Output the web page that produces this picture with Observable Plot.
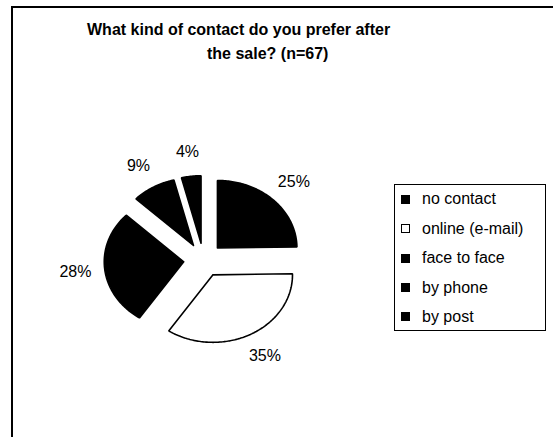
<!DOCTYPE html>
<html>
<head>
<meta charset="utf-8">
<script src="https://cdn.jsdelivr.net/npm/d3@7"></script>
<script src="https://cdn.jsdelivr.net/npm/@observablehq/plot@0.6"></script>
<style>
  html, body { margin: 0; padding: 0; background: #fff; }
  body { width: 553px; height: 437px; overflow: hidden; position: relative;
         font-family: "Liberation Sans", Arial, Helvetica, sans-serif; color: #000; }
  #frame { position: absolute; left: 11px; top: 6px; width: 600px; height: 500px;
           border-left: 2px solid #000; border-top: 2px solid #000; }
  .title { position: absolute; font-weight: bold; font-size: 16px; line-height: 16px; white-space: nowrap; }
  #chart { position: absolute; left: 0; top: 0; }
  #legend { position: absolute; left: 394px; top: 184px; width: 152px; height: 147px;
            border: 1px solid #000; box-sizing: border-box; background: #fff; }
  .item { position: absolute; left: 6px; height: 20px; display: flex; align-items: center;
          font-size: 16px; line-height: 16px; white-space: nowrap; }
  .sw { width: 7px; height: 7px; border: 1px solid #000; margin-right: 12px; box-sizing: content-box; }
</style>
</head>
<body>
<div id="frame"></div>
<div id="chart"></div>
<div class="title" id="t1" style="left:87px; top:21.5px;"></div>
<div class="title" id="t2" style="left:207px; top:45.5px;"></div>
<div id="legend"></div>
<script>
// ---- data ----
const categories = ["no contact", "online (e-mail)", "face to face", "by phone", "by post"];
const percents = [25, 35, 28, 9, 4];
const fills = ["black", "white", "black", "black", "black"];
const titleLines = ["What kind of contact do you prefer after", "the sale? (n=67)"];

// ---- layout ----
const W = 553, H = 437;
const cx = 203, cy = 259.5, rx = 79.5, ry = 67.5;
const explode = 0.25, labelR = 1.62;

const total = d3.sum(percents);
const slices = [];
const poly = [];
let cum = 0;
categories.forEach((cat, i) => {
  const v = percents[i];
  const a0 = cum / total * 2 * Math.PI;
  const a1 = (cum + v) / total * 2 * Math.PI;
  cum += v;
  const mid = (a0 + a1) / 2;
  const ox = explode * Math.sin(mid), oy = explode * Math.cos(mid);
  poly.push({cat, x: ox, y: oy});
  const n = Math.max(4, Math.ceil((a1 - a0) / (Math.PI / 180)));
  for (let k = 0; k <= n; k++) {
    const a = a0 + (a1 - a0) * k / n;
    poly.push({cat, x: ox + Math.sin(a), y: oy + Math.cos(a)});
  }
  poly.push({cat, x: ox, y: oy});
  slices.push({cat, label: v + "%", x: labelR * Math.sin(mid), y: labelR * Math.cos(mid)});
});

const chart = Plot.plot({
  width: W,
  height: H,
  margin: 0,
  x: {domain: [-cx / rx, (W - cx) / rx], axis: null},
  y: {domain: [(cy - H) / ry, cy / ry], axis: null},
  color: {domain: categories, range: fills},
  style: {background: "transparent", overflow: "visible"},
  marks: [
    Plot.line(poly, {x: "x", y: "y", z: "cat", fill: "cat", stroke: "black",
                     strokeWidth: 1.6, strokeLinejoin: "miter", curve: "linear"}),
    Plot.text(slices, {x: "x", y: "y", text: "label", fontSize: 16,
                       fontFamily: "Liberation Sans, Arial, sans-serif", fill: "black"})
  ]
});
document.getElementById("chart").appendChild(chart);

document.getElementById("t1").textContent = titleLines[0];
document.getElementById("t2").textContent = titleLines[1];

const legend = document.getElementById("legend");
categories.forEach((cat, i) => {
  const it = document.createElement("div");
  it.className = "item";
  it.style.top = (4.3 + 29.4 * i) + "px";
  const sw = document.createElement("span");
  sw.className = "sw";
  sw.style.background = fills[i];
  const tx = document.createElement("span");
  tx.textContent = cat;
  it.appendChild(sw);
  it.appendChild(tx);
  legend.appendChild(it);
});
</script>
</body>
</html>
